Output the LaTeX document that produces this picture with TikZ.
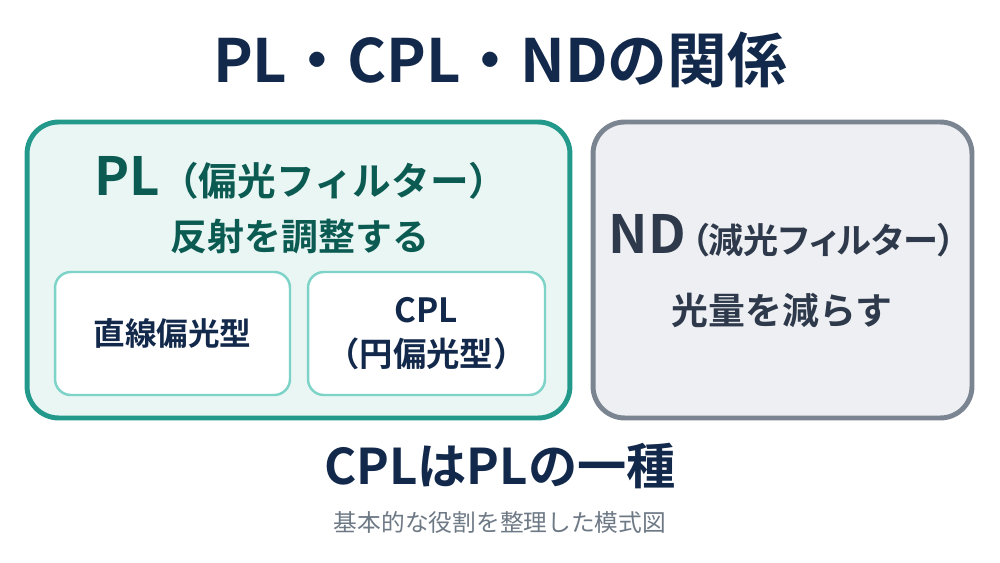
\documentclass[tikz,border=0pt]{standalone}
\usepackage{fontspec}
\setmainfont{Noto Sans CJK JP}[BoldFont={* Bold}]
\newfontfamily\jpprop{Noto Sans CJK JP}[BoldFont={* Bold}, RawFeature=+palt]
\usetikzlibrary{positioning}
\definecolor{navy}{RGB}{18,41,75}
\definecolor{tealdark}{RGB}{35,153,139}
\definecolor{tealfill}{RGB}{233,246,244}
\definecolor{teallight}{RGB}{126,211,200}
\definecolor{tealtext}{RGB}{11,91,82}
\definecolor{grayline}{RGB}{123,133,145}
\definecolor{grayfill}{RGB}{238,239,242}
\definecolor{graytext}{RGB}{46,58,75}
\definecolor{subgray}{RGB}{110,121,134}
\tikzset{
  plbox/.style={rectangle, rounded corners=18pt, minimum width=10.86cm, minimum height=5.92cm, draw=tealdark, line width=2.8pt, fill=tealfill},
  ndbox/.style={rectangle, rounded corners=18pt, minimum width=7.58cm, minimum height=5.92cm, draw=grayline, line width=2.8pt, fill=grayfill},
  subbox/.style={rectangle, rounded corners=9pt, minimum width=4.7cm, minimum height=2.46cm, draw=teallight, line width=1.4pt, fill=white},
  label/.style={inner sep=0pt, font=\bfseries, align=center}
}

\begin{document}
\begin{tikzpicture}[x=0.02cm, y=-0.02cm]
        \useasboundingbox[fill=white] (0,0) rectangle (1000,563);

        % Titulo
        \node (titulo) [label, text=navy] at (500,60) {\fontsize{34}{40}\selectfont PL・CPL・NDの関係};

        % Bloque 1: PL
        \node (pl) [plbox] at (298.5,270) {};
        \node (pltit) [label, text=tealtext] at (301,178) {{\fontsize{30}{36}\selectfont PL}{\fontsize{22}{26}\selectfont （偏光フィルター）}};
        \node (plfun) [label, text=tealtext] at (300,237) {\fontsize{21}{26}\selectfont 反射を調整する};
        \node (lineal) [subbox] at (172.5,333.5) {};
        \node (circ) [subbox, minimum width=4.74cm] at (426.5,333.5) {};
        \node [label, text=navy, font=\bfseries\fontsize{18}{22}\selectfont] at (lineal) {直線偏光型};
        \node [label, text=navy, font=\bfseries\fontsize{19}{25}\selectfont] at (circ) {CPL\\（円偏光型）};

        % Bloque 2: ND
        \node (nd) [ndbox] at (782.5,270) {};
        \node (ndtit) [label, text=graytext] at (782,236) {{\fontsize{30}{36}\selectfont ND}\kern3pt{\jpprop\fontsize{20}{26}\selectfont （減光フィルター）}};
        \node (ndfun) [label, text=graytext] at (782,310) {\fontsize{21}{26}\selectfont 光量を減らす};

        % Pie
        \node (nota) [label, text=navy] at (500,466) {\fontsize{28}{32}\selectfont CPLはPLの一種};
        \node (pie) [inner sep=0pt, text=subgray] at (500,522) {\fontsize{13.5}{16}\selectfont 基本的な役割を整理した模式図};
\end{tikzpicture}
\end{document}
